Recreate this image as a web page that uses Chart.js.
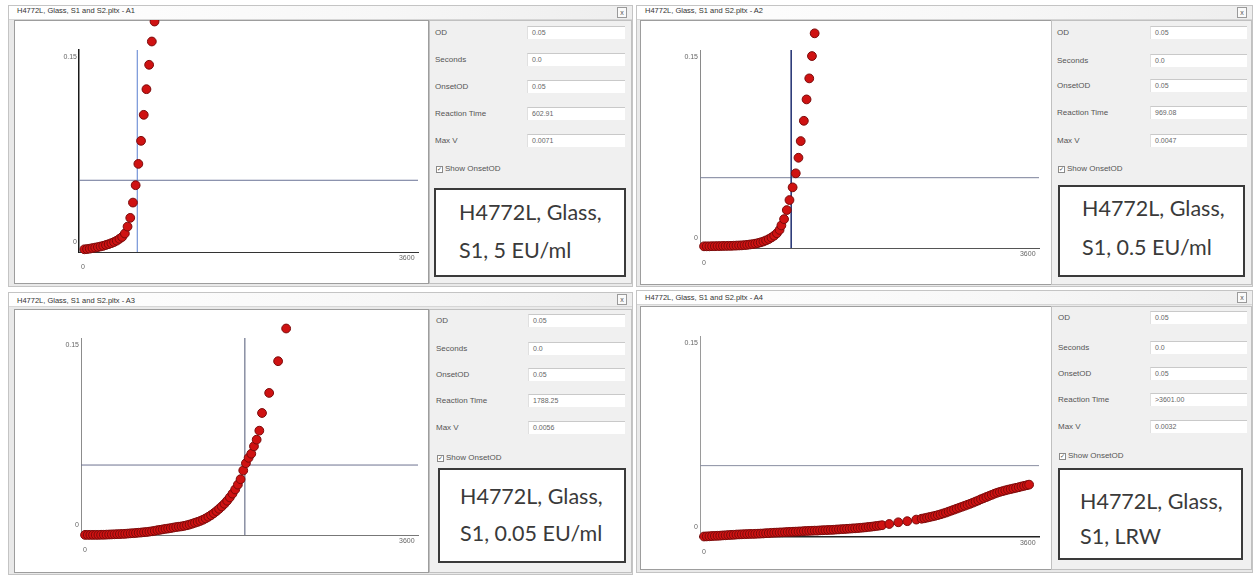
<!DOCTYPE html>
<html>
<head>
<meta charset="utf-8">
<script src="https://cdn.jsdelivr.net/npm/chart.js@4/dist/chart.umd.min.js"></script>
<style>
  html, body { margin: 0; padding: 0; }
  body { width: 1255px; height: 576px; background: #fff; position: relative; overflow: hidden;
         font-family: "Liberation Sans", Arial, sans-serif; }
  .win { position: absolute; box-sizing: border-box; border: 1px solid #c4c4c4; background: #e9e9e9; }
  .tbar { position: absolute; box-sizing: border-box; background: linear-gradient(90deg, #ffffff 0%, #f7f7f7 60%, #eeeeee 100%);
          border-bottom: 1px solid #d6d6d6; }
  .ttl { position: absolute; font-size: 7.5px; color: #333; white-space: nowrap; line-height: 10px; }
  .cls { position: absolute; box-sizing: border-box; width: 10px; height: 11px; border: 1px solid #9a9a9a; background: #fafafa;
         font-size: 7px; line-height: 9px; text-align: center; color: #555; }
  .plot { position: absolute; box-sizing: border-box; background: #fff; border: 1px solid #9d9d9d; }
  .side { position: absolute; box-sizing: border-box; background: #f0f0f0; border: 1px solid #c0c0c0; }
  .lbl { position: absolute; font-size: 8px; color: #555; white-space: nowrap; line-height: 10px; }
  .fld { position: absolute; box-sizing: border-box; height: 13px; background: #fff; border-top: 1px solid #c9c9c9;
         border-left: 1px solid #e0e0e0; font-size: 7px; color: #666; line-height: 11px; padding-left: 4px; }
  .chk { position: absolute; box-sizing: border-box; width: 7px; height: 7px; border: 1px solid #8a8a8a; background: #fff;
         font-size: 6px; line-height: 5px; text-align: center; color: #444; }
  .note { position: absolute; box-sizing: border-box; border: 2px solid #3a3a3a; background: #fff; }
  .nline { position: absolute; font-family: Lato, "Open Sans", sans-serif; font-size: 21.5px; color: #3a3a3a;
           white-space: nowrap; line-height: 26px; }
  canvas { position: absolute; }
</style>
</head>
<body>
<script>
// ---- Sample data: elapsed time (s) and optical density per well ----
const a1Time = [15, 45, 75, 105, 135, 165, 195, 225, 255, 285, 315, 345, 375, 405, 435, 465, 495, 525, 555, 585, 615, 645, 675, 705, 735, 765, 795];
const a1OD   = [-0.0060, -0.0058, -0.0055, -0.0050, -0.0046, -0.0042, -0.0037, -0.0032, -0.0025, -0.0018, -0.0010, -0.0001,
                0.0010, 0.0025, 0.0040, 0.0068, 0.0124, 0.0195, 0.0319, 0.0460, 0.0633, 0.0820, 0.1031, 0.1239, 0.1437, 0.1626, 0.1788];

const a2Time = [0, 30, 60, 90, 120, 150, 180, 210, 240, 270, 300, 330, 360, 390, 420, 450, 480, 510, 540, 570, 600, 630, 660,
                690, 720, 750, 780, 810, 840, 860, 890, 920, 950, 985, 1020, 1050, 1075, 1110, 1140, 1170, 1200, 1230];
const a2OD   = [-0.0068, -0.0068, -0.0068, -0.0067, -0.0067, -0.0066, -0.0066, -0.0065, -0.0065, -0.0064, -0.0064, -0.0063,
                -0.0062, -0.0061, -0.0060, -0.0058, -0.0056, -0.0053, -0.0050, -0.0046, -0.0041, -0.0035, -0.0028, -0.0019,
                -0.0008, 0.0005, 0.0020, 0.0040, 0.0068, 0.0105, 0.0157, 0.0232, 0.0315, 0.0420, 0.0536, 0.0665, 0.0803,
                0.0971, 0.1148, 0.1322, 0.1507, 0.1695];

const a3Time = [0, 30, 60, 90, 120, 150, 180, 210, 240, 270, 300, 330, 360, 390, 420, 450, 480, 510, 540, 570, 600, 630, 660,
                690, 720, 750, 780, 810, 840, 870, 900, 930, 960, 990, 1020, 1050, 1080, 1110, 1140, 1170, 1200, 1230, 1260,
                1290, 1320, 1350, 1380, 1410, 1440, 1470, 1500, 1530, 1560, 1590, 1620, 1650, 1680, 1710, 1740, 1770, 1800,
                1830, 1860, 1890, 1920, 1950, 1980, 2060, 2160, 2250];
const a3OD   = [-0.0081, -0.0081, -0.0081, -0.0081, -0.0081, -0.0081, -0.0080, -0.0080, -0.0079, -0.0078, -0.0077, -0.0076,
                -0.0075, -0.0074, -0.0073, -0.0072, -0.0070, -0.0068, -0.0067, -0.0065, -0.0063, -0.0061, -0.0059, -0.0057,
                -0.0054, -0.0051, -0.0047, -0.0042, -0.0039, -0.0035, -0.0031, -0.0028, -0.0024, -0.0020, -0.0016, -0.0013,
                -0.0010, -0.0006, -0.0001, 0.0005, 0.0012, 0.0020, 0.0027, 0.0035, 0.0045, 0.0056, 0.0069, 0.0083, 0.0099,
                0.0117, 0.0136, 0.0156, 0.0178, 0.0203, 0.0231, 0.0262, 0.0297, 0.0337, 0.0382, 0.0455, 0.0515, 0.0560,
                0.0594, 0.0656, 0.0711, 0.0786, 0.0933, 0.1100, 0.1364, 0.1636];

const a4Time = [0, 30, 60, 90, 120, 150, 180, 210, 240, 270, 300, 330, 360, 390, 420, 450, 480, 510, 540, 570, 600, 630, 660,
                690, 720, 750, 780, 810, 840, 870, 900, 930, 960, 990, 1020, 1050, 1080, 1110, 1140, 1170, 1200, 1230, 1260,
                1290, 1320, 1350, 1380, 1410, 1440, 1470, 1500, 1530, 1560, 1590, 1620, 1650, 1680, 1710, 1740, 1770, 1800,
                1830, 1860, 1890, 1920, 1950, 1980, 2060, 2160, 2260, 2360, 2420, 2450, 2480, 2510, 2540, 2570, 2600, 2630,
                2660, 2690, 2720, 2750, 2780, 2810, 2840, 2870, 2900, 2930, 2960, 2990, 3020, 3050, 3080, 3110, 3140, 3170,
                3200, 3230, 3260, 3290, 3320, 3350, 3380, 3410, 3440, 3470, 3500, 3530, 3560, 3590, 3615];
const a4OD   = [-0.0078, -0.0077, -0.0076, -0.0074, -0.0073, -0.0072, -0.0071, -0.0069, -0.0068, -0.0066, -0.0065, -0.0064,
                -0.0062, -0.0061, -0.0060, -0.0059, -0.0058, -0.0057, -0.0057, -0.0056, -0.0055, -0.0054, -0.0053, -0.0051,
                -0.0050, -0.0048, -0.0047, -0.0046, -0.0045, -0.0044, -0.0043, -0.0041, -0.0040, -0.0039, -0.0038, -0.0037,
                -0.0036, -0.0034, -0.0033, -0.0032, -0.0031, -0.0030, -0.0030, -0.0028, -0.0027, -0.0026, -0.0025, -0.0024,
                -0.0023, -0.0021, -0.0020, -0.0018, -0.0017, -0.0015, -0.0014, -0.0012, -0.0011, -0.0009, -0.0007, -0.0005,
                -0.0003, 0.0000, 0.0002, 0.0005, 0.0008, 0.0011, 0.0014, 0.0024, 0.0038, 0.0047, 0.0060, 0.0067, 0.0071,
                0.0076, 0.0081, 0.0086, 0.0091, 0.0097, 0.0103, 0.0110, 0.0117, 0.0125, 0.0133, 0.0141, 0.0149, 0.0157,
                0.0165, 0.0173, 0.0181, 0.0189, 0.0198, 0.0207, 0.0216, 0.0226, 0.0235, 0.0244, 0.0253, 0.0262, 0.0271,
                0.0279, 0.0286, 0.0292, 0.0298, 0.0304, 0.0309, 0.0314, 0.0319, 0.0324, 0.0330, 0.0335, 0.0340, 0.0345];

// ---- Run settings and results shown beside each plot ----
const wellIds        = ['A1', 'A2', 'A3', 'A4'];
const fileName       = 'H4772L, Glass, S1 and S2.pltx';
const sampleLine1    = ['H4772L, Glass,', 'H4772L, Glass,', 'H4772L, Glass,', 'H4772L, Glass,'];
const sampleLine2    = ['S1, 5 EU/ml', 'S1, 0.5 EU/ml', 'S1, 0.05 EU/ml', 'S1, LRW'];
const odSetting      = ['0.05', '0.05', '0.05', '0.05'];
const secondsSetting = ['0.0', '0.0', '0.0', '0.0'];
const onsetODText    = ['0.05', '0.05', '0.05', '0.05'];
const onsetOD        = [0.05, 0.05, 0.05, 0.05];
const reactionTime   = [602.91, 969.08, 1788.25, null];   // null: onset not reached within the run
const reactionText   = ['602.91', '969.08', '1788.25', '>3601.00'];
const maxVText       = ['0.0071', '0.0047', '0.0056', '0.0032'];
const fieldNames     = ['OD', 'Seconds', 'OnsetOD', 'Reaction Time', 'Max V'];

// ---- Axis ticks and limits ----
const xTicks = [0, 3600];
const yTicks = [0, 0.15];
const X_MIN = -45, X_MAX = 3725;
const Y_MIN = -0.0082, Y_MAX = 0.1557;

const seriesTime = [a1Time, a2Time, a3Time, a4Time];
const seriesOD   = [a1OD, a2OD, a3OD, a4OD];

// ---- Window geometry and styling (page pixels) ----
const layout = [
  { win: [8, 5, 625, 282], titleY: 11, plot: [14, 20, 415, 264], side: [429, 20, 203, 264],
    area: [79, 50, 418, 252], rows: [33, 60, 87, 114, 141], labelX: 435, fieldX: 527, fieldW: 98, checkY: 169,
    box: [434, 188, 192, 89], textX: 459, textY: [212, 250],
    yAxis: ['#1a1a1a', 1.5], xAxis: ['#333', 1], hLine: ['#6a7396', 1], vLine: ['#5a7fd0', 1] },
  { win: [636, 5, 617, 282], titleY: 11, plot: [640, 20, 412, 265], side: [1051, 20, 201, 265],
    area: [700, 50, 1039, 248], rows: [33, 61, 86, 113, 141], labelX: 1057, fieldX: 1150, fieldW: 97, checkY: 169,
    box: [1058, 185, 187, 92], textX: 1082, textY: [208, 247],
    yAxis: ['#8a8a8a', 1], xAxis: ['#555', 1], hLine: ['#7b8099', 1], vLine: ['#2c3a78', 1.6] },
  { win: [8, 292, 625, 283], titleY: 301, plot: [14, 309, 415, 264], side: [429, 309, 203, 264],
    area: [81, 338, 418, 535], rows: [321, 349, 375, 401, 428], labelX: 436, fieldX: 528, fieldW: 97, checkY: 458,
    box: [438, 468, 188, 95], textX: 460, textY: [496, 533],
    yAxis: ['#8c8c8c', 1], xAxis: ['#777', 1], hLine: ['#6d7290', 1], vLine: ['#4f5674', 1] },
  { win: [636, 290, 617, 283], titleY: 298, plot: [640, 306, 412, 264], side: [1051, 306, 201, 264],
    area: [700, 336, 1039, 537], rows: [318, 348, 374, 400, 427], labelX: 1058, fieldX: 1150, fieldW: 97, checkY: 456,
    box: [1058, 468, 185, 92], textX: 1080, textY: [501, 536],
    yAxis: ['#9a9a9a', 1], xAxis: ['#222', 1.5], hLine: ['#8a8ea2', 1], vLine: ['#4f5674', 1] }
];

// Readings above the top of the axis are still plotted: widen the area used for
// point visibility while the datasets are drawn, then restore it.
const openPlotArea = {
  id: 'openPlotArea',
  beforeDatasetsDraw(chart) {
    chart.$savedArea = chart.chartArea;
    chart.chartArea = { left: 0, top: 0, right: chart.width, bottom: chart.height,
                        width: chart.width, height: chart.height };
  },
  afterDatasetsDraw(chart) {
    chart.chartArea = chart.$savedArea;
  }
};

function box(cls, x, y, w, h, text) {
  const d = document.createElement('div');
  d.className = cls;
  d.style.left = x + 'px';
  d.style.top = y + 'px';
  if (w != null) d.style.width = w + 'px';
  if (h != null) d.style.height = h + 'px';
  if (text != null) d.textContent = text;
  document.body.appendChild(d);
  return d;
}

layout.forEach((L, i) => {
  const [wx, wy, ww, wh] = L.win;
  box('win', wx, wy, ww, wh);
  box('tbar', wx + 1, wy + 1, ww - 2, 14);
  box('ttl', wx + 9, L.titleY - 5, null, null, fileName + ' - ' + wellIds[i]);
  box('cls', wx + ww - 16, wy + 2, null, null, 'x');

  const [px, py, pw, ph] = L.plot;
  box('plot', px, py, pw, ph);
  const [sx, sy, sw, sh] = L.side;
  box('side', sx, sy, sw, sh);

  const values = [odSetting[i], secondsSetting[i], onsetODText[i], reactionText[i], maxVText[i]];
  fieldNames.forEach((name, r) => {
    box('lbl', L.labelX, L.rows[r] - 5, null, null, name);
    box('fld', L.fieldX, L.rows[r] - 7, L.fieldW, null, values[r]);
  });
  box('chk', L.labelX + 1, L.checkY - 3, null, null, '\u2713');
  box('lbl', L.labelX + 10, L.checkY - 5, null, null, 'Show OnsetOD');

  const [bx, by, bw, bh] = L.box;
  box('note', bx, by, bw, bh);
  box('nline', L.textX, L.textY[0] - 13, null, null, sampleLine1[i]);
  box('nline', L.textX, L.textY[1] - 13, null, null, sampleLine2[i]);

  // Chart canvas covers the white plot region; the chart area is placed inside it
  const cv = document.createElement('canvas');
  cv.width = pw; cv.height = ph;
  cv.style.left = px + 'px'; cv.style.top = py + 'px';
  document.body.appendChild(cv);

  const [al, at, ar, ab] = L.area;
  const yAxisWidth = al - px;
  const xAxisHeight = py + ph - ab;

  const datasets = [
    {
      type: 'scatter',
      data: seriesTime[i].map((t, k) => ({ x: t, y: seriesOD[i][k] })),
      pointRadius: 4.4, pointHoverRadius: 4.4,
      pointBackgroundColor: '#cf1212', pointBorderColor: '#7a0a0a', pointBorderWidth: 1,
      clip: false, order: 0
    },
    {
      type: 'line',
      data: [{ x: X_MIN, y: onsetOD[i] }, { x: X_MAX, y: onsetOD[i] }],
      borderColor: L.hLine[0], borderWidth: L.hLine[1], pointRadius: 0, showLine: true, order: 2
    }
  ];
  if (reactionTime[i] !== null) {
    datasets.push({
      type: 'line',
      data: [{ x: reactionTime[i], y: Y_MIN }, { x: reactionTime[i], y: Y_MAX }],
      borderColor: L.vLine[0], borderWidth: L.vLine[1], pointRadius: 0, showLine: true, order: 1
    });
  }

  new Chart(cv, {
    data: { datasets },
    plugins: [openPlotArea],
    options: {
      responsive: false,
      animation: false,
      events: [],
      devicePixelRatio: 1,
      layout: { padding: { top: at - py, right: px + pw - ar, left: 0, bottom: 0 } },
      plugins: { legend: { display: false }, tooltip: { enabled: false } },
      scales: {
        x: {
          type: 'linear', min: X_MIN, max: X_MAX,
          grid: { display: false, drawTicks: false },
          border: { display: true, color: L.xAxis[0], width: L.xAxis[1] },
          afterFit: s => { s.height = xAxisHeight; },
          afterBuildTicks: s => { s.ticks = xTicks.map(v => ({ value: v })); },
          ticks: {
            autoSkip: false, maxRotation: 0, padding: 2, color: '#666',
            font: { size: 7, family: 'Liberation Sans' },
            callback: v => (v === 0 ? ['', '0'] : String(v))
          }
        },
        y: {
          type: 'linear', min: Y_MIN, max: Y_MAX,
          grid: { display: false, drawTicks: false },
          border: { display: true, color: L.yAxis[0], width: L.yAxis[1] },
          afterFit: s => { s.width = yAxisWidth; },
          afterBuildTicks: s => { s.ticks = yTicks.map(v => ({ value: v })); },
          ticks: {
            autoSkip: false, padding: 2, color: '#666',
            font: { size: 7, family: 'Liberation Sans' },
            callback: v => String(v)
          }
        }
      }
    }
  });
});
</script>
</body>
</html>
